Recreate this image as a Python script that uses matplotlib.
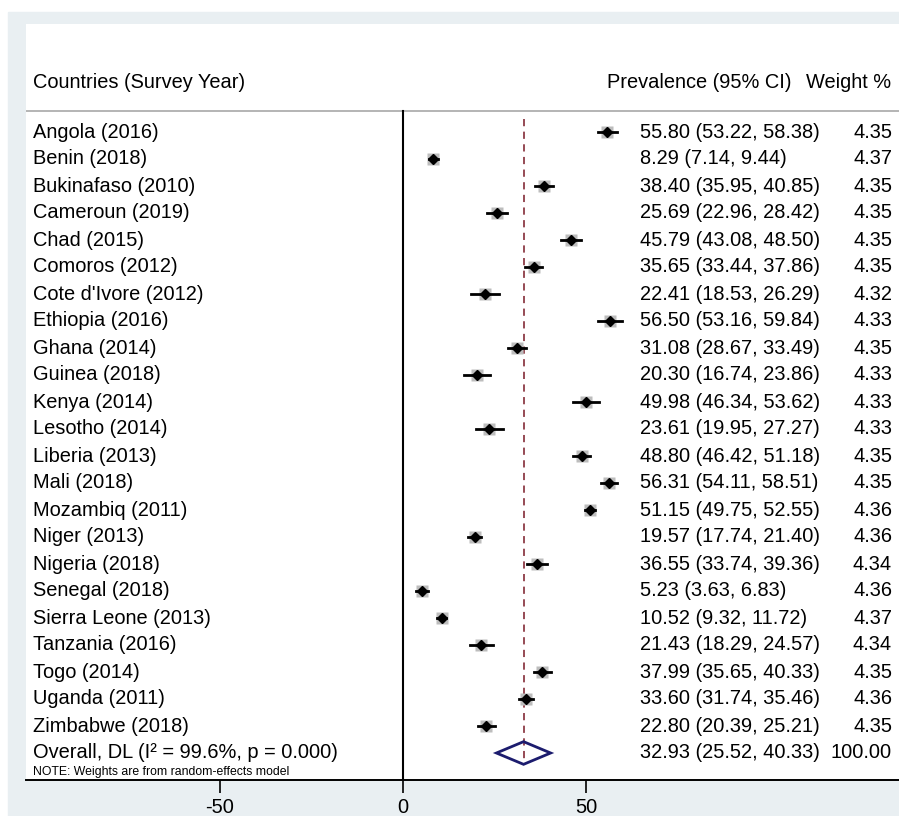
import numpy as np
import matplotlib
matplotlib.use("Agg")
import matplotlib.pyplot as plt
from matplotlib.patches import Rectangle

plt.rcParams['font.family'] = ['Liberation Sans', 'DejaVu Sans']
plt.rcParams['axes.unicode_minus'] = False

# datos del forest plot
paises = ["Angola (2016)", "Benin (2018)", "Bukinafaso (2010)", "Cameroun (2019)",
          "Chad (2015)", "Comoros (2012)", "Cote d'Ivore (2012)", "Ethiopia (2016)",
          "Ghana (2014)", "Guinea (2018)", "Kenya (2014)", "Lesotho (2014)",
          "Liberia (2013)", "Mali (2018)", "Mozambiq (2011)", "Niger (2013)",
          "Nigeria (2018)", "Senegal (2018)", "Sierra Leone (2013)", "Tanzania (2016)",
          "Togo (2014)", "Uganda (2011)", "Zimbabwe (2018)"]
prevalencia = [55.80, 8.29, 38.40, 25.69, 45.79, 35.65, 22.41, 56.50, 31.08, 20.30, 49.98, 23.61,
               48.80, 56.31, 51.15, 19.57, 36.55, 5.23, 10.52, 21.43, 37.99, 33.60, 22.80]
ic_inf = [53.22, 7.14, 35.95, 22.96, 43.08, 33.44, 18.53, 53.16, 28.67, 16.74, 46.34, 19.95,
          46.42, 54.11, 49.75, 17.74, 33.74, 3.63, 9.32, 18.29, 35.65, 31.74, 20.39]
ic_sup = [58.38, 9.44, 40.85, 28.42, 48.50, 37.86, 26.29, 59.84, 33.49, 23.86, 53.62, 27.27,
          51.18, 58.51, 52.55, 21.40, 39.36, 6.83, 11.72, 24.57, 40.33, 35.46, 25.21]
pesos = [4.35, 4.37, 4.35, 4.35, 4.35, 4.35, 4.32, 4.33, 4.35, 4.33, 4.33, 4.33,
         4.35, 4.35, 4.36, 4.36, 4.34, 4.36, 4.37, 4.34, 4.35, 4.36, 4.35]
global_est, global_inf, global_sup, global_peso = 32.93, 25.52, 40.33, 100.00
global_label = "Overall, DL (I\u00b2 = 99.6%, p = 0.000)"
nota = "NOTE: Weights are from random-effects model"
ticks = [-50, 0, 50]

W, H = 899, 816
fig = plt.figure(figsize=(W / 100, H / 100), dpi=100)
fig.patches.append(Rectangle((8 / W, 0), (W - 8) / W, (816 - 12) / H,
                             transform=fig.transFigure, color='#E9EFF2', zorder=-10))

ax = fig.add_axes([26 / W, 1 - 780 / H, (W - 26) / W, (780 - 24) / H])
ax.set_facecolor('white')
ax.set_xlim(-103, 135.5)
ax.set_ylim(24, -4)
for s in ['top', 'right', 'left']:
    ax.spines[s].set_visible(False)
ax.spines['bottom'].set_linewidth(1.4)
ax.set_yticks([])
ax.set_xticks(ticks)
ax.tick_params(axis='x', direction='out', length=9, width=1.2, labelsize=14.4, pad=4)

fs = 14.4
x_lab, x_est, x_peso = -101.1, 64.7, 133.6
n = len(paises)
y_linea = -0.78

# cabecera
ax.axhline(y_linea, color='#A8A8A8', lw=1.2)
ax.text(x_lab, -1.85, "Countries (Survey Year)", va='center', fontsize=fs)
ax.text(55.7, -1.85, "Prevalence (95% CI)", va='center', fontsize=fs)
ax.text(133.3, -1.85, "Weight %", va='center', ha='right', fontsize=fs)

# linea vertical en cero y linea del efecto global
ax.plot([0, 0], [y_linea, 24], color='black', lw=1.5)
ax.plot([global_est, global_est], [-0.5, n + 0.4], color='#8E3B46', lw=1.3, ls=(0, (4, 3)))

for i in range(n):
    ax.plot([ic_inf[i], ic_sup[i]], [i, i], color='black', lw=2, zorder=3)
    ax.plot(prevalencia[i], i, marker='s', ms=3.9 * np.sqrt(pesos[i]), color='#BDBDBD',
            mec='none', zorder=2)
    ax.plot(prevalencia[i], i, marker='D', ms=5.5, color='black', zorder=4)
    ax.text(x_lab, i, paises[i], va='center', fontsize=fs)
    ax.text(x_est, i, f"{prevalencia[i]:.2f} ({ic_inf[i]:.2f}, {ic_sup[i]:.2f})",
            va='center', fontsize=fs)
    ax.text(x_peso, i, f"{pesos[i]:.2f}", va='center', ha='right', fontsize=fs)

# diamante global
ax.fill([global_inf, global_est, global_sup, global_est], [n, n - 0.42, n, n + 0.42],
        fill=False, edgecolor='#1C1C6E', lw=2, zorder=4)
ax.text(x_lab, n, global_label, va='center', fontsize=fs)
ax.text(x_est, n, f"{global_est:.2f} ({global_inf:.2f}, {global_sup:.2f})",
        va='center', fontsize=fs)
ax.text(x_peso, n, f"{global_peso:.2f}", va='center', ha='right', fontsize=fs)
ax.text(x_lab, n + 0.72, nota, va='center', fontsize=8.8)

fig.savefig("out.png", dpi=100)
